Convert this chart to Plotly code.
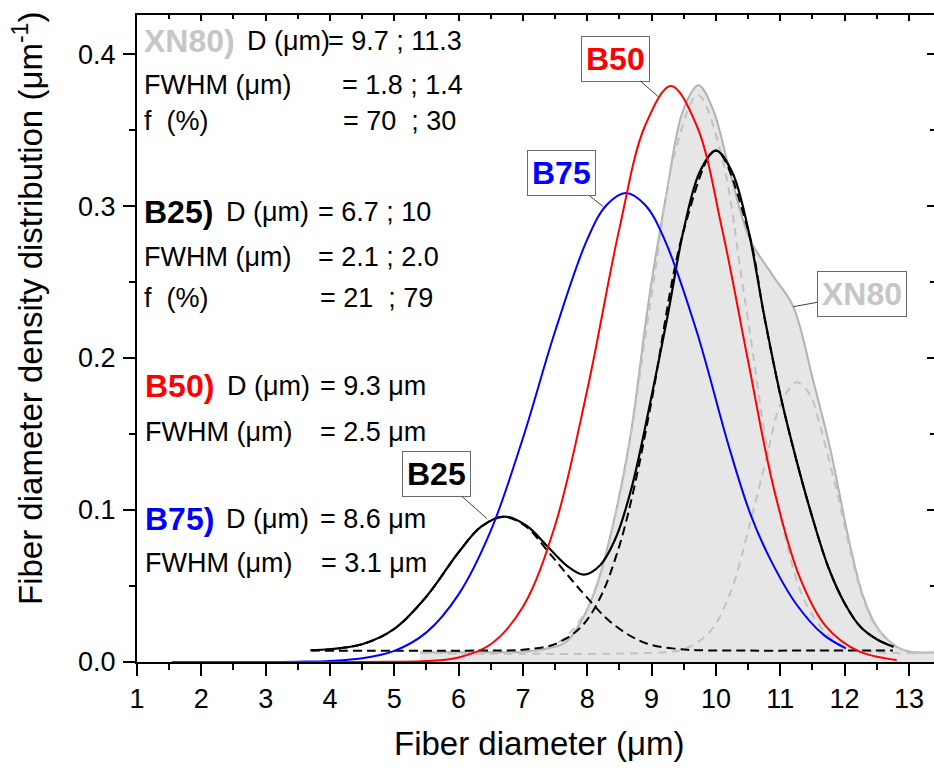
import plotly.graph_objects as go

# ---------------- data ----------------
b75_x = [1.55, 2.5, 3.0, 3.5, 4.0, 4.5, 5.0, 5.5, 6.0, 6.5, 7.0, 7.5, 8.0, 8.3, 8.6,
         8.9, 9.2, 9.7, 10.2, 10.53, 10.84, 11.25, 11.67, 12.02]
b75_y = [0.0, 0.0, 0.0, 0.0002, 0.0007, 0.0024, 0.0073, 0.0195, 0.0445, 0.0864, 0.1474,
         0.2176, 0.2781, 0.3007, 0.3086, 0.3007, 0.2781, 0.2176, 0.1420, 0.0980, 0.0680,
         0.0380, 0.0180, 0.0090]

b50_x = [1.55, 3.0, 4.0, 5.0, 5.5, 6.0, 6.5, 7.0, 7.5, 8.0, 8.5, 8.9, 9.3, 9.7, 10.1,
         10.5, 10.9, 11.3, 11.7, 12.2, 12.81]
b50_y = [0.0, 0.0, 0.0, 0.0001, 0.0006, 0.0030, 0.0117, 0.0363, 0.0900, 0.1791, 0.2853,
         0.3530, 0.3790, 0.3530, 0.2840, 0.1980, 0.1140, 0.0560, 0.0240, 0.0075, 0.0013]

b25_x = [3.7, 4.0, 4.5, 5.0, 5.5, 6.0, 6.35, 6.7, 7.05, 7.4, 7.7, 7.95, 8.2, 8.45, 8.7,
         9.0, 9.25, 9.5, 9.75, 10.0, 10.25, 10.5, 10.75, 11.0, 11.25, 11.5, 11.75,
         12.0, 12.25, 12.5, 12.76]
b25_y = [0.0078, 0.0084, 0.0117, 0.0218, 0.0431, 0.0722, 0.0890, 0.0957, 0.0898, 0.0752,
         0.0628, 0.0575, 0.0637, 0.0824, 0.1165, 0.1751, 0.2280, 0.2847, 0.3226, 0.3365,
         0.3226, 0.2850, 0.2280, 0.1760, 0.1330, 0.0950, 0.0620, 0.0387, 0.0230, 0.0150,
         0.0100]

b25_p1_x = [3.7, 4.0, 4.5, 5.0, 5.5, 6.0, 6.35, 6.7, 7.05, 7.4, 7.9, 8.4, 8.9, 9.4, 9.7,
            10.5, 11.5, 12.75]
b25_p1_y = [0.0078, 0.0084, 0.0117, 0.0218, 0.0431, 0.0722, 0.0890, 0.0955, 0.0890,
            0.0722, 0.0470, 0.0250, 0.0125, 0.0086, 0.0078, 0.0075, 0.0075, 0.0075]

b25_p2_x = [3.7, 6.5, 7.0, 7.5, 7.9, 8.2, 8.5, 8.75, 9.0, 9.5, 10.0, 10.5, 10.75, 11.0,
            11.25, 11.5, 11.75, 12.0, 12.25, 12.5, 12.76]
b25_p2_y = [0.0075, 0.0076, 0.0081, 0.0118, 0.0229, 0.0423, 0.0766, 0.1188, 0.1719,
            0.2841, 0.3365, 0.2841, 0.2275, 0.1758, 0.1329, 0.0950, 0.0620, 0.0387,
            0.0230, 0.0150, 0.0100]

xn80_x = [5.4, 6.5, 7.0, 7.4, 7.68, 7.94, 8.15, 8.4, 8.66, 8.97, 9.23, 9.49, 9.73, 9.96,
          10.22, 10.53, 10.89, 11.2, 11.51, 11.77, 11.93, 12.09, 12.29, 12.5, 12.81,
          13.02, 13.39]
xn80_y = [0.0064, 0.0064, 0.0067, 0.0090, 0.0135, 0.0295, 0.0510, 0.0905, 0.1460, 0.2420,
          0.3080, 0.3630, 0.3795, 0.3630, 0.3220, 0.2780, 0.2540, 0.2340, 0.1855, 0.1417,
          0.1088, 0.0759, 0.0430, 0.0232, 0.0100, 0.0068, 0.0064]

xn80_p1_x = [5.4, 7.0, 7.5, 8.0, 8.5, 9.0, 9.36, 9.72, 10.08, 10.44, 10.94, 11.44, 11.94,
             12.44, 13.39]
xn80_p1_y = [0.0060, 0.0067, 0.0114, 0.0351, 0.1085, 0.2414, 0.3344, 0.3730, 0.3344,
             0.2414, 0.1085, 0.0351, 0.0114, 0.0067, 0.0060]

xn80_p2_x = [5.4, 9.0, 9.5, 9.9, 10.22, 10.53, 10.79, 11.0, 11.25, 11.46, 11.62, 11.77,
             11.93, 12.09, 12.29, 12.5, 12.81, 13.02, 13.39]
xn80_p2_y = [0.0060, 0.0061, 0.0084, 0.0196, 0.0450, 0.0912, 0.1350, 0.1690, 0.1840,
             0.1760, 0.1550, 0.1310, 0.1030, 0.0730, 0.0415, 0.0226, 0.0099, 0.0068,
             0.0060]

x_ticks = [1, 2, 3, 4, 5, 6, 7, 8, 9, 10, 11, 12, 13]
y_ticks = [0.0, 0.1, 0.2, 0.3, 0.4]

# ---------------- layout geometry ----------------
W, H = 934, 771
L, R, T, B = 137, 0, 15, 109
X0, X1 = 1.0, 13.39
Y0, Y1 = 0.0, 0.4257
pxu = (W - L - R) / (X1 - X0)
pyu = (H - T - B) / (Y1 - Y0)


def dx(px):
    return X0 + (px - L) / pxu


def dy(py):
    return Y0 + (H - B - py) / pyu


FONT = "Liberation Sans, Arial, sans-serif"
GREY_TXT = "#c6c6c6"

fig = go.Figure()

# XN80 filled distribution
fig.add_trace(go.Scatter(x=xn80_x, y=xn80_y, mode="lines", fill="tozeroy",
                         fillcolor="#e6e6e6", line=dict(color="#b2b2b2", width=2, shape="spline"),
                         showlegend=False))
fig.add_trace(go.Scatter(x=xn80_p1_x, y=xn80_p1_y, mode="lines",
                         line=dict(color="#c2c2c2", width=2, dash="8px,6px", shape="spline"),
                         showlegend=False))
fig.add_trace(go.Scatter(x=xn80_p2_x, y=xn80_p2_y, mode="lines",
                         line=dict(color="#c2c2c2", width=2, dash="8px,6px", shape="spline"),
                         showlegend=False))
# B25 components
fig.add_trace(go.Scatter(x=b25_p1_x, y=b25_p1_y, mode="lines",
                         line=dict(color="black", width=2, dash="9px,5px", shape="spline"),
                         showlegend=False))
fig.add_trace(go.Scatter(x=b25_p2_x, y=b25_p2_y, mode="lines",
                         line=dict(color="black", width=2, dash="9px,5px", shape="spline"),
                         showlegend=False))
# main curves
fig.add_trace(go.Scatter(x=b25_x, y=b25_y, mode="lines",
                         line=dict(color="black", width=2.2, shape="spline"), showlegend=False))
fig.add_trace(go.Scatter(x=b75_x, y=b75_y, mode="lines",
                         line=dict(color="#0000ff", width=2, shape="spline"), showlegend=False))
fig.add_trace(go.Scatter(x=b50_x, y=b50_y, mode="lines",
                         line=dict(color="#ff0000", width=2, shape="spline"), showlegend=False))
# empty trace to host the mirrored (top / right) tick axes
fig.add_trace(go.Scatter(x=[], y=[], xaxis="x2", yaxis="y2", showlegend=False,
                         hoverinfo="skip"))

ann = []


def txt(px, py, s, size=27, color="black"):
    ann.append(dict(x=dx(px), y=dy(py), xref="x", yref="y", text=s, showarrow=False,
                    xanchor="left", yanchor="middle",
                    font=dict(family=FONT, size=size, color=color)))


NB = "\u00a0"
txt(142, 41, "<b>XN80)</b>", 32, GREY_TXT)
txt(245, 41, "D (μm)")
txt(326, 41, "= 9.7 ; 11.3")
txt(142, 85, "FWHM (μm)")
txt(340, 85, "= 1.8 ; 1.4")
txt(142, 121, "f" + NB + NB + "(%)")
txt(341, 121, "= 70" + NB + NB + "; 30")

txt(142, 212, "<b>B25)</b>", 32, "black")
txt(224, 212, "D (μm)")
txt(316, 212, "= 6.7 ; 10")
txt(142, 257, "FWHM (μm)")
txt(316, 257, "= 2.1 ; 2.0")
txt(142, 298, "f" + NB + NB + "(%)")
txt(318, 298, "= 21" + NB + NB + "; 79")

txt(143, 386, "<b>B50)</b>", 32, "#ff0000")
txt(225, 386, "D (μm)")
txt(318, 386, "= 9.3 μm")
txt(143, 432, "FWHM (μm)")
txt(318, 432, "= 2.5 μm")

txt(143, 519, "<b>B75)</b>", 32, "#0000ff")
txt(224, 519, "D (μm)")
txt(318, 519, "= 8.6 μm")
txt(143, 563, "FWHM (μm)")
txt(319, 563, "= 3.1 μm")


def boxed(label, color, tip_px, tip_py, cx, cy):
    ann.append(dict(x=dx(tip_px), y=dy(tip_py), xref="x", yref="y",
                    text="<b>" + label + "</b>", showarrow=True, arrowhead=0,
                    arrowwidth=1, arrowcolor="#404040", ax=cx - tip_px, ay=cy - tip_py,
                    bordercolor="#6a6a6a", borderwidth=1, borderpad=4, bgcolor="white",
                    font=dict(family=FONT, size=32, color=color)))


boxed("B50", "#ff0000", 658.3, 96.7, 615, 58.8)
boxed("B75", "#0000ff", 603.3, 206.7, 561.2, 173.3)
boxed("XN80", GREY_TXT, 793.3, 306.7, 861.7, 294.2)
boxed("B25", "black", 486.7, 518.3, 436.2, 473.7)

# axis titles
ann.append(dict(x=dx(539), y=(H - B - 743) / (H - T - B), xref="x", yref="paper",
                text="Fiber diameter (μm)", showarrow=False, xanchor="center",
                yanchor="middle", font=dict(family=FONT, size=33, color="black")))
ann.append(dict(x=(28 - L) / (W - L - R), y=(H - B - 309) / (H - T - B), xref="paper",
                yref="paper", text="Fiber diameter density distribution (μm<sup>-1</sup>)",
                showarrow=False, textangle=-90, xanchor="center", yanchor="middle",
                font=dict(family=FONT, size=33, color="black")))

axis_common = dict(showgrid=False, zeroline=False, linecolor="black", tickcolor="black")

fig.update_layout(
    width=W, height=H,
    margin=dict(l=L, r=R, t=T, b=B, pad=0),
    paper_bgcolor="white", plot_bgcolor="white",
    font=dict(family=FONT, size=27, color="black"),
    xaxis=dict(range=[X0, X1], tickmode="array", tickvals=x_ticks,
               ticktext=[str(v) for v in x_ticks], ticks="outside", ticklen=12,
               tickwidth=2, showline=True, linewidth=2,
               tickfont=dict(family=FONT, size=27),
               minor=dict(dtick=0.5, tick0=1, ticks="outside", ticklen=6, tickwidth=2,
                          tickcolor="black", showgrid=False),
               **axis_common),
    yaxis=dict(range=[Y0, Y1], tickmode="array", tickvals=y_ticks,
               ticktext=["%.1f" % v for v in y_ticks], ticks="outside", ticklen=12,
               tickwidth=2, showline=True, linewidth=2, ticklabelstandoff=2,
               tickfont=dict(family=FONT, size=27),
               minor=dict(dtick=0.05, tick0=0, ticks="outside", ticklen=6, tickwidth=2,
                          tickcolor="black", showgrid=False),
               **axis_common),
    xaxis2=dict(range=[X0, X1], overlaying="x", side="top", anchor="y",
                tickmode="linear", tick0=1, dtick=1, ticks="inside", ticklen=6,
                tickwidth=2, showticklabels=False, showline=True, linewidth=2,
                minor=dict(dtick=0.5, tick0=1, ticks="inside", ticklen=4, tickwidth=2,
                           tickcolor="black", showgrid=False),
                **axis_common),
    yaxis2=dict(range=[Y0, Y1], overlaying="y", side="right", anchor="x",
                tickmode="linear", tick0=0, dtick=0.1, ticks="inside", ticklen=7,
                tickwidth=2, showticklabels=False, showline=False,
                minor=dict(dtick=0.05, tick0=0, ticks="inside", ticklen=4, tickwidth=2,
                           tickcolor="black", showgrid=False),
                **axis_common),
    annotations=ann,
    showlegend=False,
)

fig.write_html("out.html", config={"displayModeBar": False},
               post_script="document.body.style.margin='0px';"
                           "document.body.style.overflow='hidden';")
